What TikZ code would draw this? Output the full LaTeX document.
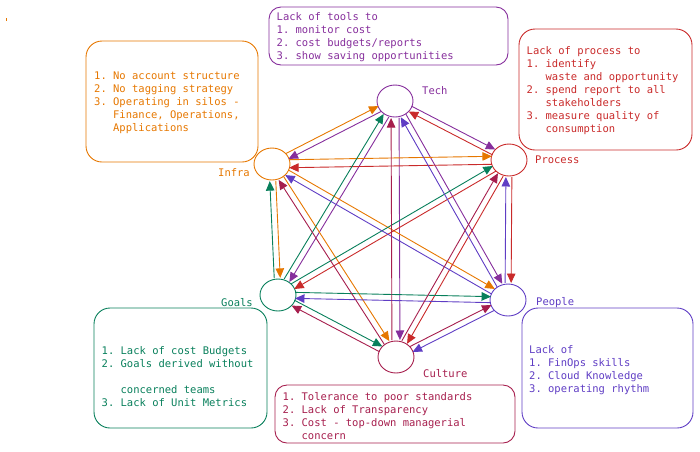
\documentclass[tikz,border=0pt]{standalone}
\usepackage{fontspec}
\setmonofont{DejaVu Sans Mono}
\usetikzlibrary{shapes.geometric,arrows.meta,calc}
\definecolor{TechColor}{HTML}{862E9C}
\definecolor{InfraColor}{HTML}{E67700}
\definecolor{ProcessColor}{HTML}{C92A2A}
\definecolor{GoalsColor}{HTML}{087F5B}
\definecolor{PeopleColor}{HTML}{5F3DC4}
\definecolor{CultureColor}{HTML}{A61E4D}
\begin{document}
\begin{tikzpicture}[x=1pt,y=-1pt,
  every node/.style={font=\ttfamily\fontsize{10.5}{13}\selectfont},
  pillar/.style={draw,ellipse,minimum width=36pt,minimum height=32pt,line width=0.9pt,inner sep=0pt},
  tag/.style={inner sep=0pt},
  link/.style={line width=0.9pt,-{Triangle[length=9.5pt,width=8.5pt]},shorten <=17pt,shorten >=17pt},
  issuebox/.style={rounded corners=16pt,line width=0.9pt},
  issuetext/.style={anchor=north west,inner sep=0pt,align=left}]
\useasboundingbox (0,0) rectangle (700,451);
\draw[InfraColor,line width=0.8pt] (6.5,18) -- (6.5,21);
\node[pillar,TechColor] (Tech) at (395,101) {};
\node[pillar,InfraColor] (Infra) at (272,164) {};
\node[pillar,ProcessColor] (Process) at (509,160) {};
\node[pillar,GoalsColor] (Goals) at (278,295) {};
\node[pillar,PeopleColor] (People) at (508,300) {};
\node[pillar,CultureColor] (Culture) at (396,357) {};
\node[tag,TechColor,anchor=base west] (TechLabel) at (422,94) {Tech};
\node[tag,InfraColor,anchor=base east] (InfraLabel) at (250,176) {Infra};
\node[tag,ProcessColor,anchor=base west] (ProcessLabel) at (535,163) {Process};
\node[tag,GoalsColor,anchor=base east] (GoalsLabel) at (253,306) {Goals};
\node[tag,PeopleColor,anchor=base west] (PeopleLabel) at (536,305) {People};
\node[tag,CultureColor,anchor=base west] (CultureLabel) at (423,377) {Culture};
% boxes
\draw[issuebox,rounded corners=12pt,TechColor] (269,7) rectangle (508,65);
\draw[issuebox,InfraColor] (86,41) rectangle (258,162);
\draw[issuebox,ProcessColor] (519,29) rectangle (692,150);
\draw[issuebox,GoalsColor] (94,308) rectangle (267,428);
\draw[issuebox,rounded corners=12pt,CultureColor] (275,385) rectangle (515,443);
\draw[issuebox,PeopleColor] (522,308) rectangle (693,428);
\node[issuetext,TechColor] (TechText) at (276.5,12.7)
  {Lack of tools to\\1. monitor cost\\2. cost budgets/reports\\3. show saving opportunities};
\node[issuetext,InfraColor] (InfraText) at (94,72)
  {1. No account structure\\2. No tagging strategy\\3. Operating in silos -\\\hphantom{3. }Finance, Operations,\\\hphantom{3. }Applications};
\node[issuetext,ProcessColor] (ProcessText) at (526.5,46.3)
  {Lack of process to\\1. identify\\\hphantom{1. }waste and opportunity\\2. spend report to all\\\hphantom{2. }stakeholders\\3. measure quality of\\\hphantom{3. }consumption};
\node[issuetext,GoalsColor] (GoalsText) at (101.5,346)
  {1. Lack of cost Budgets\\2. Goals derived without\\\mbox{}\\\hphantom{2. }concerned teams\\3. Lack of Unit Metrics};
\node[issuetext,CultureColor] (CultureText) at (282.5,392)
  {1. Tolerance to poor standards\\2. Lack of Transparency\\3. Cost - top-down managerial\\\hphantom{3. }concern};
\node[issuetext,PeopleColor] (PeopleText) at (529,345)
  {Lack of\\1. FinOps skills\\2. Cloud Knowledge\\3. operating rhythm};
% Tech
\draw[link,TechColor] ($(Tech)!3pt!90:(Infra)$) -- ($(Infra)!3pt!-90:(Tech)$);
\draw[link,TechColor] ($(Tech)!3pt!90:(Process)$) -- ($(Process)!3pt!-90:(Tech)$);
\draw[link,TechColor] ($(Tech)!3pt!90:(Goals)$) -- ($(Goals)!3pt!-90:(Tech)$);
\draw[link,TechColor] ($(Tech)!3pt!90:(People)$) -- ($(People)!3pt!-90:(Tech)$);
\draw[link,TechColor] ($(Tech)!4pt!90:(Culture)$) -- ($(Culture)!4pt!-90:(Tech)$);
% Infra
\draw[link,InfraColor] ($(Infra)!3pt!90:(Tech)$) -- ($(Tech)!3pt!-90:(Infra)$);
\draw[link,InfraColor] ($(Infra)!4pt!90:(Process)$) -- ($(Process)!4pt!-90:(Infra)$);
\draw[link,InfraColor] ($(Infra)!3pt!90:(Goals)$) -- ($(Goals)!3pt!-90:(Infra)$);
\draw[link,InfraColor] ($(Infra)!3pt!90:(People)$) -- ($(People)!3pt!-90:(Infra)$);
\draw[link,InfraColor] ($(Infra)!3pt!90:(Culture)$) -- ($(Culture)!3pt!-90:(Infra)$);
% Process
\draw[link,ProcessColor] ($(Process)!3pt!90:(Tech)$) -- ($(Tech)!3pt!-90:(Process)$);
\draw[link,ProcessColor] ($(Process)!4pt!90:(Infra)$) -- ($(Infra)!4pt!-90:(Process)$);
\draw[link,ProcessColor] ($(Process)!3pt!90:(Goals)$) -- ($(Goals)!3pt!-90:(Process)$);
\draw[link,ProcessColor] ($(Process)!3pt!90:(People)$) -- ($(People)!3pt!-90:(Process)$);
\draw[link,ProcessColor] ($(Process)!3pt!90:(Culture)$) -- ($(Culture)!3pt!-90:(Process)$);
% Goals
\draw[link,GoalsColor] ($(Goals)!3pt!90:(Tech)$) -- ($(Tech)!3pt!-90:(Goals)$);
\draw[link,GoalsColor] ($(Goals)!3pt!90:(Infra)$) -- ($(Infra)!3pt!-90:(Goals)$);
\draw[link,GoalsColor] ($(Goals)!3pt!90:(Process)$) -- ($(Process)!3pt!-90:(Goals)$);
\draw[link,GoalsColor] ($(Goals)!3pt!90:(People)$) -- ($(People)!3pt!-90:(Goals)$);
\draw[link,GoalsColor] ($(Goals)!3pt!90:(Culture)$) -- ($(Culture)!3pt!-90:(Goals)$);
% People
\draw[link,PeopleColor] ($(People)!3pt!90:(Tech)$) -- ($(Tech)!3pt!-90:(People)$);
\draw[link,PeopleColor] ($(People)!3pt!90:(Infra)$) -- ($(Infra)!3pt!-90:(People)$);
\draw[link,PeopleColor] ($(People)!3pt!90:(Process)$) -- ($(Process)!3pt!-90:(People)$);
\draw[link,PeopleColor] ($(People)!3pt!90:(Goals)$) -- ($(Goals)!3pt!-90:(People)$);
\draw[link,PeopleColor] ($(People)!3pt!90:(Culture)$) -- ($(Culture)!3pt!-90:(People)$);
% Culture
\draw[link,CultureColor] ($(Culture)!4pt!90:(Tech)$) -- ($(Tech)!4pt!-90:(Culture)$);
\draw[link,CultureColor] ($(Culture)!3pt!90:(Infra)$) -- ($(Infra)!3pt!-90:(Culture)$);
\draw[link,CultureColor] ($(Culture)!3pt!90:(Process)$) -- ($(Process)!3pt!-90:(Culture)$);
\draw[link,CultureColor] ($(Culture)!3pt!90:(Goals)$) -- ($(Goals)!3pt!-90:(Culture)$);
\draw[link,CultureColor] ($(Culture)!3pt!90:(People)$) -- ($(People)!3pt!-90:(Culture)$);
\end{tikzpicture}
\end{document}
